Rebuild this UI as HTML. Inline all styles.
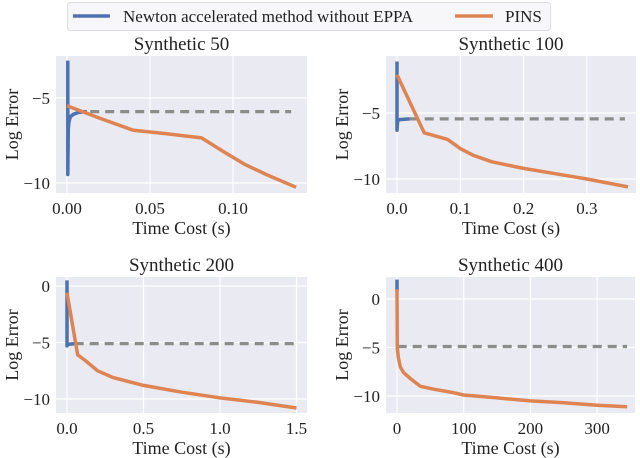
<!DOCTYPE html>
<html><head><meta charset="utf-8">
<style>
html,body{margin:0;padding:0;background:#fff;}
svg{display:block;font-family:"Liberation Serif",serif;}
</style></head>
<body>
<svg id="chart" width="640" height="458" viewBox="0 0 640 458">
  <g>
    <rect x="67.5" y="2.5" width="483" height="28" rx="3" fill="#f7f7fa" stroke="#dcdce4"/>
    <line x1="73" y1="16" x2="110" y2="16" stroke="#4c72b0" stroke-width="3.5"/>
    <text x="123" y="22" font-size="17" fill="#222">Newton accelerated method without EPPA</text>
    <line x1="455" y1="16" x2="493" y2="16" stroke="#dd8452" stroke-width="3.5"/>
    <text x="505" y="22" font-size="17" fill="#222">PINS</text>
  </g>
</svg>
<script>
// ---- data ----
const titles = ["Synthetic 50","Synthetic 100","Synthetic 200","Synthetic 400"];
const xTicks1 = [0, 0.05, 0.10];
const xTickLabels1 = ["0.00","0.05","0.10"];
const yTicks1 = [-5, -10];
const newtonX1 = [0.0005, 0.0005, 0.0008, 0.0012, 0.002, 0.004, 0.007, 0.012];
const newtonY1 = [-2.8, -9.5, -6.8, -6.4, -6.1, -5.95, -5.85, -5.8];
const dashX1 = [0.014, 0.135];
const dashY1 = [-5.8, -5.8];
const pinsX1 = [0, 0.02, 0.04, 0.06, 0.081, 0.095, 0.107, 0.12, 0.138];
const pinsY1 = [-5.45, -6.2, -6.9, -7.1, -7.35, -8.2, -8.9, -9.5, -10.25];

const xTicks2 = [0, 0.1, 0.2, 0.3];
const xTickLabels2 = ["0.0","0.1","0.2","0.3"];
const yTicks2 = [-5, -10];
const newtonX2 = [0, 0, 0.001, 0.004, 0.02];
const newtonY2 = [-1.1, -6.3, -5.6, -5.5, -5.45];
const dashX2 = [0.02, 0.36];
const dashY2 = [-5.45, -5.45];
const pinsX2 = [0, 0.043, 0.08, 0.1, 0.12, 0.15, 0.2, 0.25, 0.3, 0.365];
const pinsY2 = [-2.1, -6.5, -7.0, -7.7, -8.2, -8.7, -9.2, -9.6, -10.0, -10.6];

const xTicks3 = [0, 0.5, 1.0, 1.5];
const xTickLabels3 = ["0.0","0.5","1.0","1.5"];
const yTicks3 = [0, -5, -10];
const newtonX3 = [0, 0, 0.01, 0.05];
const newtonY3 = [0.5, -5.3, -5.15, -5.1];
const dashX3 = [0.05, 1.5];
const dashY3 = [-5.1, -5.1];
const pinsX3 = [0, 0.07, 0.12, 0.2, 0.3, 0.5, 0.75, 1.0, 1.25, 1.5];
const pinsY3 = [-0.6, -6.1, -6.6, -7.5, -8.1, -8.8, -9.4, -9.9, -10.3, -10.8];

const xTicks4 = [0, 100, 200, 300];
const xTickLabels4 = ["0","100","200","300"];
const yTicks4 = [0, -5, -10];
const newtonX4 = [0, 0];
const newtonY4 = [2.0, 0.8];
const dashX4 = [1, 345];
const dashY4 = [-4.9, -4.9];
const pinsX4 = [0, 0.5, 2, 5, 10, 20, 35, 55, 80, 100, 150, 200, 250, 300, 345];
const pinsY4 = [1.0, -5.0, -6.0, -7.0, -7.6, -8.2, -9.0, -9.3, -9.6, -9.9, -10.2, -10.5, -10.7, -10.95, -11.1];

// ---- layout (pixel calibration per panel) ----
const panels = [
  {left:56,right:307,top:56,bottom:193,x0:67,xs:1660,y0v:-5,y0p:98,ys:17.0,
   xt:xTicks1,xl:xTickLabels1,yt:yTicks1,nx:newtonX1,ny:newtonY1,dx:dashX1,dy:dashY1,px:pinsX1,py:pinsY1},
  {left:386,right:636,top:56,bottom:193,x0:397,xs:633,y0v:-5,y0p:113,ys:13.2,
   xt:xTicks2,xl:xTickLabels2,yt:yTicks2,nx:newtonX2,ny:newtonY2,dx:dashX2,dy:dashY2,px:pinsX2,py:pinsY2},
  {left:56,right:307,top:277,bottom:413,x0:67,xs:153,y0v:0,y0p:286,ys:11.3,
   xt:xTicks3,xl:xTickLabels3,yt:yTicks3,nx:newtonX3,ny:newtonY3,dx:dashX3,dy:dashY3,px:pinsX3,py:pinsY3},
  {left:386,right:635,top:277,bottom:413,x0:397,xs:0.667,y0v:0,y0p:299,ys:9.7,
   xt:xTicks4,xl:xTickLabels4,yt:yTicks4,nx:newtonX4,ny:newtonY4,dx:dashX4,dy:dashY4,px:pinsX4,py:pinsY4}
];

const NS = "http://www.w3.org/2000/svg";
const svg = document.getElementById("chart");
function mk(tag, attrs, parent){
  const e = document.createElementNS(NS, tag);
  for (const k in attrs) e.setAttribute(k, attrs[k]);
  parent.appendChild(e);
  return e;
}
function fmtY(v){ return v < 0 ? "\u2212" + Math.abs(v) : String(v); }

panels.forEach((p, i) => {
  const xs = v => p.x0 + v * p.xs;
  const ys = v => p.y0p - (v - p.y0v) * p.ys;
  const g = mk("g", {}, svg);
  
  
  const bg = mk("rect", {x:p.left, y:p.top, width:p.right-p.left, height:p.bottom-p.top, fill:"#eaeaf2"}, g);
  
  
  p.xt.forEach((t, j) => {
    const gl = mk("line", {x1:xs(t), x2:xs(t), y1:p.top, y2:p.bottom, stroke:"#fff", "stroke-width":1.2}, g);
    
    
    const tl = mk("text", {x:xs(t), y:p.bottom+21, "font-size":17, fill:"#222", "text-anchor":"middle"}, g);
    tl.textContent = p.xl[j];
    
    
  });
  p.yt.forEach(t => {
    const gl = mk("line", {x1:p.left, x2:p.right, y1:ys(t), y2:ys(t), stroke:"#fff", "stroke-width":1.2}, g);
    
    
    const tl = mk("text", {x:p.left-6, y:ys(t)+6, "font-size":17, fill:"#222", "text-anchor":"end"}, g);
    tl.textContent = fmtY(t);
    
    
  });
  const ti = mk("text", {x:(p.left+p.right)/2, y:p.top-6, "font-size":19, fill:"#222", "text-anchor":"middle"}, g);
  ti.textContent = titles[i];
  
  
  const xl = mk("text", {x:(p.left+p.right)/2, y:p.bottom+41, "font-size":18, fill:"#222", "text-anchor":"middle"}, g);
  xl.textContent = "Time Cost (s)";
  
  
  const ly = p.left - 38, lcy = (p.top+p.bottom)/2;
  const yl = mk("text", {x:ly, y:lcy, "font-size":18, fill:"#222", "text-anchor":"middle", transform:`rotate(-90 ${ly} ${lcy})`}, g);
  yl.textContent = "Log Error";
  
  

  const pts = (X, Y) => X.map((v, k) => xs(v).toFixed(1) + "," + ys(Y[k]).toFixed(1)).join(" ");
  const dash = mk("polyline", {points:pts(p.dx, p.dy), fill:"none", stroke:"#8c8c8c", "stroke-width":3.2, "stroke-dasharray":"9,6"}, g);
  
  
  const nl = mk("polyline", {points:pts(p.nx, p.ny), fill:"none", stroke:"#4c72b0", "stroke-width":3.5, "stroke-linejoin":"round"}, g);
  
  
  const pl = mk("polyline", {points:pts(p.px, p.py), fill:"none", stroke:"#dd8452", "stroke-width":3.5, "stroke-linejoin":"round"}, g);
  
  
});
</script>
</body></html>
